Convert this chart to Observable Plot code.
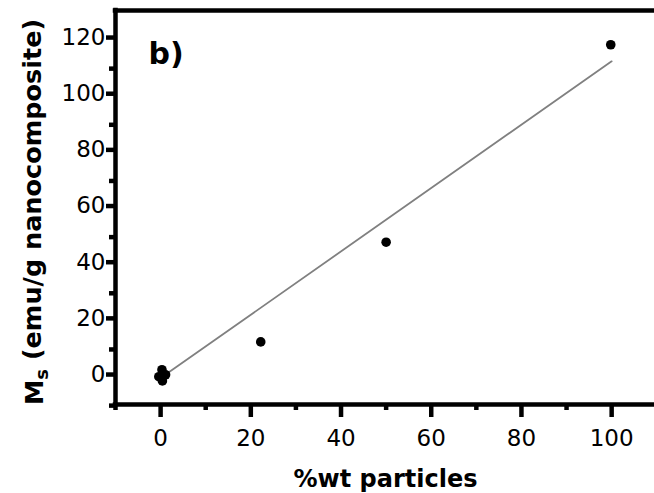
<!DOCTYPE html>
<html><head><meta charset="utf-8">
<script src="https://cdn.jsdelivr.net/npm/d3@7"></script>
<script src="https://cdn.jsdelivr.net/npm/@observablehq/plot@0.6"></script>
<style>html,body{margin:0;padding:0;background:#fff;overflow:hidden}</style>
</head><body><div id="chart"></div>
<script>
// Data
const xValues = [-0.4, 0.4, 1.1, 0.3, 22.2, 50.0, 99.8];      // %wt particles
const yValues = [0.3, -1.2, 1.0, 2.8, 12.7, 48.2, 118.5];     // Ms (emu/g nanocomposite)
const fitX = [0, 100];                                         // linear fit line ends
const fitY = [-0.2, 112.6];
const xTicks = [0, 20, 40, 60, 80, 100];
const xMinorTicks = [-10, 10, 30, 50, 70, 90];
const yTicks = [0, 20, 40, 60, 80, 100, 120];
const yMinorTicks = [-10, 10, 30, 50, 70, 90, 110];
const xDomain = [-10, 109.5];
const yDomain = [-9.6, 130.7];
const panelLabel = "b)";
const xTitle = "%wt particles";
const yTitleMain = "M";
const yTitleSub = "s";
const yTitleRest = " (emu/g nanocomposite)";

const points = xValues.map((x, i) => ({x, y: yValues[i]}));
const fit = fitX.map((x, i) => ({x, y: fitY[i]}));
const font = "'DejaVu Sans', Verdana, sans-serif";
const lw = 4.5;

const plot = Plot.plot({
  width: 654, height: 493,
  marginLeft: 115, marginRight: 0, marginTop: 10, marginBottom: 89,
  x: {domain: xDomain, label: null},
  y: {domain: yDomain, label: null},
  style: {fontFamily: font, background: "#fff", color: "#000", overflow: "visible"},
  marks: [
    Plot.line(fit, {x: "x", y: "y", stroke: "#808080", strokeWidth: 1.8}),
    Plot.dot(points, {x: "x", y: "y", r: 4.8, fill: "#000", stroke: "none"}),
    Plot.ruleX([xDomain[0]], {stroke: "#000", strokeWidth: lw, strokeLinecap: "square"}),
    Plot.ruleY([yDomain[0], yDomain[1]], {stroke: "#000", strokeWidth: lw, strokeLinecap: "square"}),
    Plot.axisX(xTicks, {tickSize: 13, tickPadding: 12, strokeWidth: lw, fontSize: 23, label: null}),
    Plot.axisX(xMinorTicks, {tickSize: 6, strokeWidth: lw, tickFormat: () => "", label: null}),
    Plot.axisY(yTicks, {tickSize: 9, tickPadding: 1, strokeWidth: lw, fontSize: 23, dy: -3, label: null}),
    Plot.axisY(yMinorTicks, {tickSize: 6, strokeWidth: lw, tickFormat: () => "", label: null}),
    Plot.text([panelLabel], {frameAnchor: "top-left", dx: 33, dy: 32, lineAnchor: "top", textAnchor: "start", fontSize: 30, fontWeight: "bold", fill: "#000"})
  ]
});

document.getElementById("chart").appendChild(plot);
const svg = d3.select(plot);
const xr = plot.scale("x").range;
const yr = plot.scale("y").range;
svg.append("text")
  .attr("x", (xr[0] + xr[1]) / 2 + 1)
  .attr("y", 487)
  .attr("text-anchor", "middle")
  .style("font", `bold 24px ${font}`)
  .attr("fill", "#000")
  .text(xTitle);
const yt = svg.append("text")
  .attr("transform", `translate(43,${(yr[0] + yr[1]) / 2 + 5}) rotate(-90)`)
  .attr("text-anchor", "middle")
  .style("font", `bold 25.5px ${font}`)
  .attr("fill", "#000");
yt.append("tspan").text(yTitleMain);
yt.append("tspan").attr("dy", "0.3em").style("font-size", "18px").text(yTitleSub);
yt.append("tspan").attr("dy", "-0.3em").text(yTitleRest);
</script>
</body></html>
